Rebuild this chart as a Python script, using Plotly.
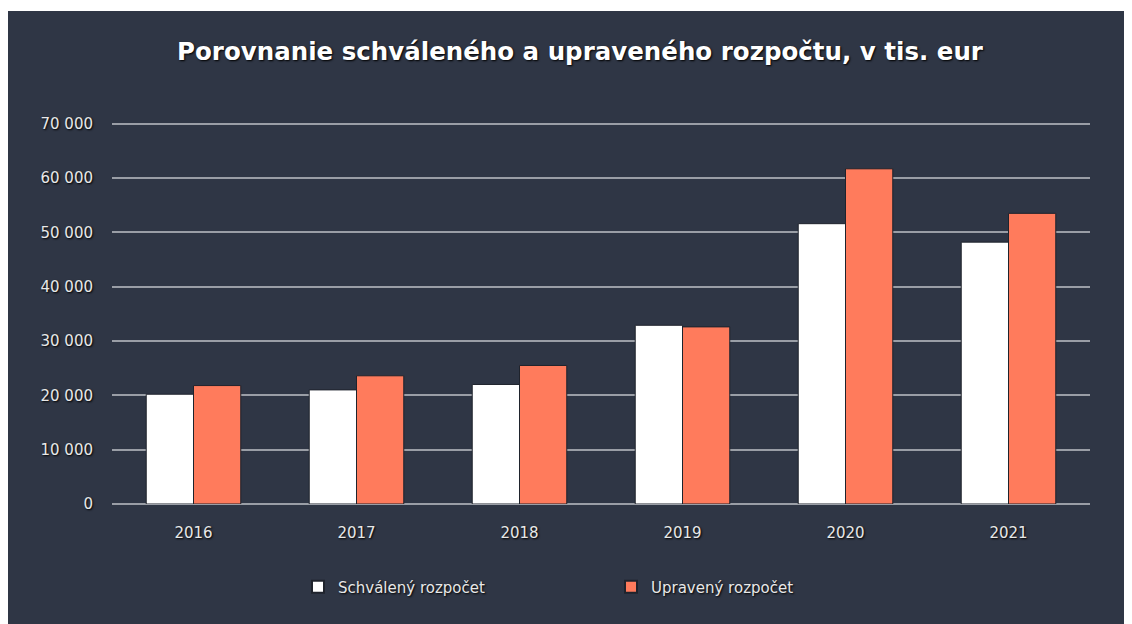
import plotly.graph_objects as go

years = ["2016", "2017", "2018", "2019", "2020", "2021"]
schvaleny = [20200, 21000, 22000, 32900, 51600, 48200]
upraveny = [21800, 23600, 25500, 32600, 61700, 53500]
y_ticks = [0, 10000, 20000, 30000, 40000, 50000, 60000, 70000]
y_tick_labels = ["0", "10 000", "20 000", "30 000", "40 000", "50 000", "60 000", "70 000"]

BG = "#2f3645"
ORANGE = "#ff7b5c"
FONT = "DejaVu Sans"
shadow = "1px 1px 2px #000000"

fig = go.Figure()
fig.add_trace(go.Bar(x=years, y=schvaleny, name="Schválený rozpočet",
                     marker=dict(color="#ffffff", line=dict(color="#1f232c", width=1))))
fig.add_trace(go.Bar(x=years, y=upraveny, name="Upravený rozpočet",
                     marker=dict(color=ORANGE, line=dict(color="#1f232c", width=1))))

# page body has an 8px margin; figure coords = window coords - 8
OFF = 8
W, H = 1124, 616
L, R, T, B = 104, 42, 113, 120
pw, ph = W - L - R, H - T - B

def px(x_win):
    return (x_win - OFF - L) / pw

def py(y_win):
    return (H - B - (y_win - OFF)) / ph

fig.update_layout(
    width=W, height=H,
    margin=dict(l=L, r=R, t=T, b=B),
    paper_bgcolor=BG, plot_bgcolor=BG,
    barmode="group", bargap=0.42, bargroupgap=0.0,
    title=dict(text="<b>Porovnanie schváleného a upraveného rozpočtu, v tis. eur</b>",
               xref="container", x=(580 - OFF) / W, xanchor="center",
               yref="container", y=1 - (51 - OFF) / H, yanchor="middle",
               font=dict(family=FONT, size=24.5, color="#ffffff", shadow=shadow)),
    font=dict(family=FONT, color="#e8e8e8"),
    xaxis=dict(showgrid=False, showline=False, ticks="",
               tickfont=dict(size=15, color="#e8e8e8", shadow=shadow),
               ticklabelstandoff=18),
    yaxis=dict(range=[0, 70500], tickvals=y_ticks, ticktext=y_tick_labels,
               showgrid=True, gridcolor="#9a9ea6", gridwidth=1.5,
               zeroline=True, zerolinecolor="#9a9ea6", zerolinewidth=1.5,
               showline=False, ticks="",
               tickfont=dict(size=15, color="#e8e8e8", shadow=shadow),
               ticklabelstandoff=18),
    legend=dict(orientation="h", x=px(298), xanchor="left", y=py(587), yanchor="middle",
                entrywidth=268, entrywidthmode="pixels",
                font=dict(size=15, color="#e8e8e8", shadow=shadow),
                bgcolor="rgba(0,0,0,0)", itemsizing="constant"),
    showlegend=True,
    shapes=[
        dict(type="rect", xref="paper", yref="paper", x0=px(OFF - 2), x1=px(OFF + W + 2),
             y0=py(11), y1=py(OFF - 2), fillcolor="#ffffff", line=dict(width=0), layer="above"),
    ],
)

fig.write_html("out.html")
